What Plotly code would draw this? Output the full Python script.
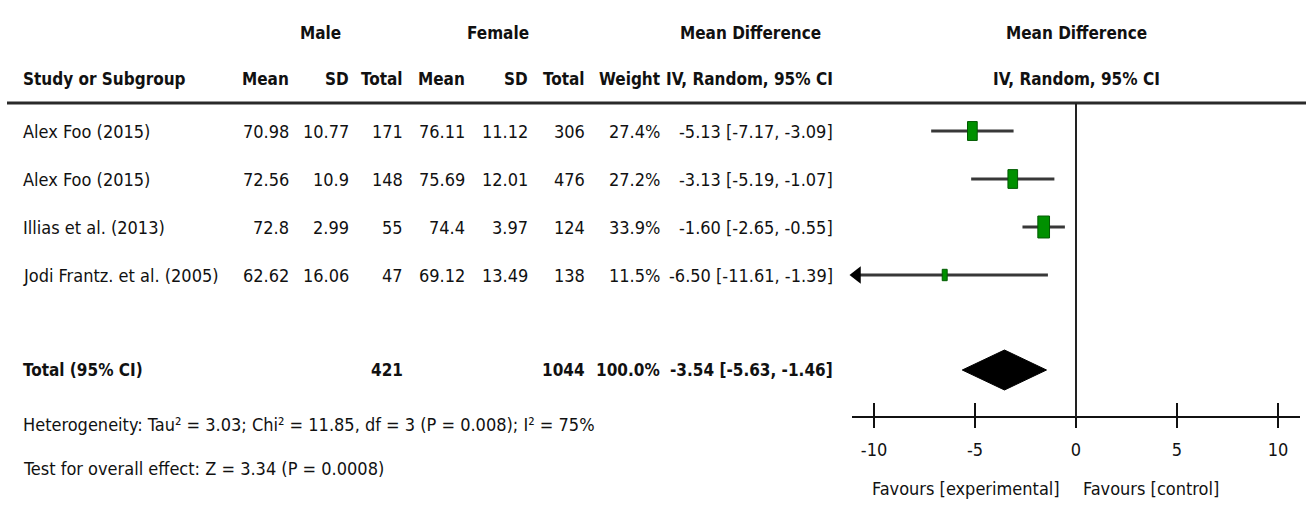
import plotly.graph_objects as go

# ---------------- data ----------------
studies = ["Alex Foo (2015)", "Alex Foo (2015)", "Illias et al. (2013)", "Jodi Frantz. et al. (2005)"]
male_mean = ["70.98", "72.56", "72.8", "62.62"]
male_sd = ["10.77", "10.9", "2.99", "16.06"]
male_n = [171, 148, 55, 47]
female_mean = ["76.11", "75.69", "74.4", "69.12"]
female_sd = ["11.12", "12.01", "3.97", "13.49"]
female_n = [306, 476, 124, 138]
weight = [27.4, 27.2, 33.9, 11.5]
md = [-5.13, -3.13, -1.60, -6.50]
ci_lo = [-7.17, -5.19, -2.65, -11.61]
ci_hi = [-3.09, -1.07, -0.55, -1.39]

total_male_n = 421
total_female_n = 1044
total_weight = 100.0
total_md = -3.54
total_lo = -5.63
total_hi = -1.46

heterogeneity = "Heterogeneity: Tau² = 3.03; Chi² = 11.85, df = 3 (P = 0.008); I² = 75%"
overall = "Test for overall effect: Z = 3.34 (P = 0.0008)"

tick_vals = [-10, -5, 0, 5, 10]
tick_text = ["-10", "-5", "0", "5", "10"]
favours_left = "Favours [experimental]"
favours_right = "Favours [control]"

# ---------------- layout constants ----------------
W, H = 1306, 508
ROW0_PX, ROW_PX = 131, 48          # pixel centre of first row, row pitch
PX_PER_UNIT = 20.2
ZERO_PX = 1076
AX_LEFT_PX, AX_RIGHT_PX = 852, 1300
xmin = (AX_LEFT_PX - ZERO_PX) / PX_PER_UNIT
xmax = (AX_RIGHT_PX - ZERO_PX) / PX_PER_UNIT


def row_of(px):
    return (px - ROW0_PX) / ROW_PX


Y_TOP = row_of(0)
Y_BOT = row_of(H)
GROUP_ROW = row_of(33)
HEAD_ROW = row_of(79)
LINE_ROW = row_of(103)
TOTAL_ROW = row_of(370)
AXIS_ROW = row_of(417)
HET_ROW = row_of(424)
TEST_ROW = row_of(468)
FAV_ROW = row_of(488)

FONT = "DejaVu Sans Condensed, Liberation Sans Narrow, Arial Narrow, sans-serif"
FS = 18      # regular text
FSB = 17     # bold text
INK = "#111111"

fig = go.Figure()


def txt(text, xpx, row, anchor="right", bold=False):
    fig.add_annotation(
        text=f"<b>{text}</b>" if bold else text,
        x=xpx / W, xref="paper", y=row, yref="y",
        xanchor=anchor, yanchor="middle", showarrow=False,
        font=dict(family=FONT, size=FSB if bold else FS, color=INK),
    )


# ---------------- table headers ----------------
txt("Male", 320, GROUP_ROW, "center", True)
txt("Female", 498, GROUP_ROW, "center", True)
txt("Mean Difference", 750, GROUP_ROW, "center", True)
txt("Mean Difference", ZERO_PX, GROUP_ROW, "center", True)

col_right = [291, 351, 405, 467, 530, 587, 662, 835]
col_heads = ["Mean", "SD", "Total", "Mean", "SD", "Total", "Weight", "IV, Random, 95% CI"]
txt("Study or Subgroup", 21, HEAD_ROW, "left", True)
for h, xr in zip(col_heads, col_right):
    txt(h, xr, HEAD_ROW, "right", True)
txt("IV, Random, 95% CI", ZERO_PX, HEAD_ROW, "center", True)

# ---------------- table rows ----------------
for i, s in enumerate(studies):
    cells = [male_mean[i], male_sd[i], str(male_n[i]), female_mean[i], female_sd[i],
             str(female_n[i]), f"{weight[i]:.1f}%",
             f"{md[i]:.2f} [{ci_lo[i]:.2f}, {ci_hi[i]:.2f}]"]
    txt(s, 21, i, "left")
    for c, xr in zip(cells, col_right):
        txt(c, xr, i, "right")

txt("Total (95% CI)", 21, TOTAL_ROW, "left", True)
txt(str(total_male_n), col_right[2], TOTAL_ROW, "right", True)
txt(str(total_female_n), col_right[5], TOTAL_ROW, "right", True)
txt(f"{total_weight:.1f}%", col_right[6], TOTAL_ROW, "right", True)
txt(f"{total_md:.2f} [{total_lo:.2f}, {total_hi:.2f}]", col_right[7], TOTAL_ROW, "right", True)

txt(heterogeneity, 21, HET_ROW, "left")
txt(overall, 21, TEST_ROW, "left")

# ---------------- lines ----------------
fig.add_shape(type="line", xref="paper", yref="y", x0=7 / W, x1=1, y0=LINE_ROW, y1=LINE_ROW,
              line=dict(color="#2a2a2a", width=3))
fig.add_shape(type="line", xref="x", yref="y", x0=0, x1=0, y0=LINE_ROW, y1=AXIS_ROW,
              line=dict(color="#222222", width=2))

# ---------------- forest marks ----------------
for i in range(len(studies)):
    lo = max(ci_lo[i], xmin)
    fig.add_trace(go.Scatter(x=[lo, ci_hi[i]], y=[i, i], mode="lines",
                             line=dict(color="#383838", width=3),
                             hoverinfo="skip", showlegend=False, cliponaxis=False))
    if ci_lo[i] < xmin:
        fig.add_trace(go.Scatter(x=[xmin + 5 / PX_PER_UNIT], y=[i], mode="markers",
                                 marker=dict(symbol="triangle-left", size=15, color="#000000"),
                                 hoverinfo="skip", showlegend=False, cliponaxis=False))
    w_px = 1.5 + 0.3 * weight[i]
    h_px = 6 + 0.47 * weight[i]
    fig.add_shape(type="rect", xref="x", yref="y",
                  x0=md[i] - w_px / 2 / PX_PER_UNIT, x1=md[i] + w_px / 2 / PX_PER_UNIT,
                  y0=i - h_px / 2 / ROW_PX, y1=i + h_px / 2 / ROW_PX,
                  fillcolor="#009000", line=dict(color="#005a00", width=1))

dh = 20 / ROW_PX
fig.add_trace(go.Scatter(
    x=[total_lo, total_md, total_hi, total_md, total_lo],
    y=[TOTAL_ROW, TOTAL_ROW - dh, TOTAL_ROW, TOTAL_ROW + dh, TOTAL_ROW],
    mode="lines", fill="toself", fillcolor="#000000", line=dict(color="#000000", width=1),
    hoverinfo="skip", showlegend=False))

# invisible trace for overlay tick axis
fig.add_trace(go.Scatter(x=[0], y=[AXIS_ROW], xaxis="x2", mode="markers",
                         marker=dict(opacity=0), hoverinfo="skip", showlegend=False))

fig.add_annotation(text=favours_left, x=0, xref="x", y=FAV_ROW, yref="y", xanchor="right",
                   yanchor="middle", xshift=-14, showarrow=False,
                   font=dict(family=FONT, size=FS, color=INK))
fig.add_annotation(text=favours_right, x=0, xref="x", y=FAV_ROW, yref="y", xanchor="left",
                   yanchor="middle", xshift=5, showarrow=False,
                   font=dict(family=FONT, size=FS, color=INK))

axis_pos = 1 - (ROW0_PX + ROW_PX * AXIS_ROW) / H
dom = [AX_LEFT_PX / W, AX_RIGHT_PX / W]
fig.update_layout(
    width=W, height=H,
    margin=dict(l=0, r=0, t=0, b=0),
    paper_bgcolor="white", plot_bgcolor="white",
    showlegend=False,
    xaxis=dict(domain=dom, range=[xmin, xmax], anchor="free", position=axis_pos,
               showline=True, linecolor="#111111", linewidth=2,
               ticks="outside", ticklen=10, tickwidth=2, tickcolor="#111111",
               tickvals=tick_vals, ticktext=tick_text, ticklabelstandoff=6,
               tickfont=dict(family=FONT, size=FS, color=INK),
               showgrid=False, zeroline=False, fixedrange=True),
    xaxis2=dict(domain=dom, range=[xmin, xmax], anchor="free", position=axis_pos,
                overlaying="x", showline=False, ticks="inside", ticklen=14, tickwidth=2,
                tickcolor="#111111", tickvals=tick_vals, showticklabels=False,
                showgrid=False, zeroline=False, fixedrange=True),
    yaxis=dict(domain=[0, 1], range=[Y_BOT, Y_TOP], visible=False, fixedrange=True),
)

fig.write_html("out.html", config={"displayModeBar": False},
               post_script="document.body.style.margin='0';")
